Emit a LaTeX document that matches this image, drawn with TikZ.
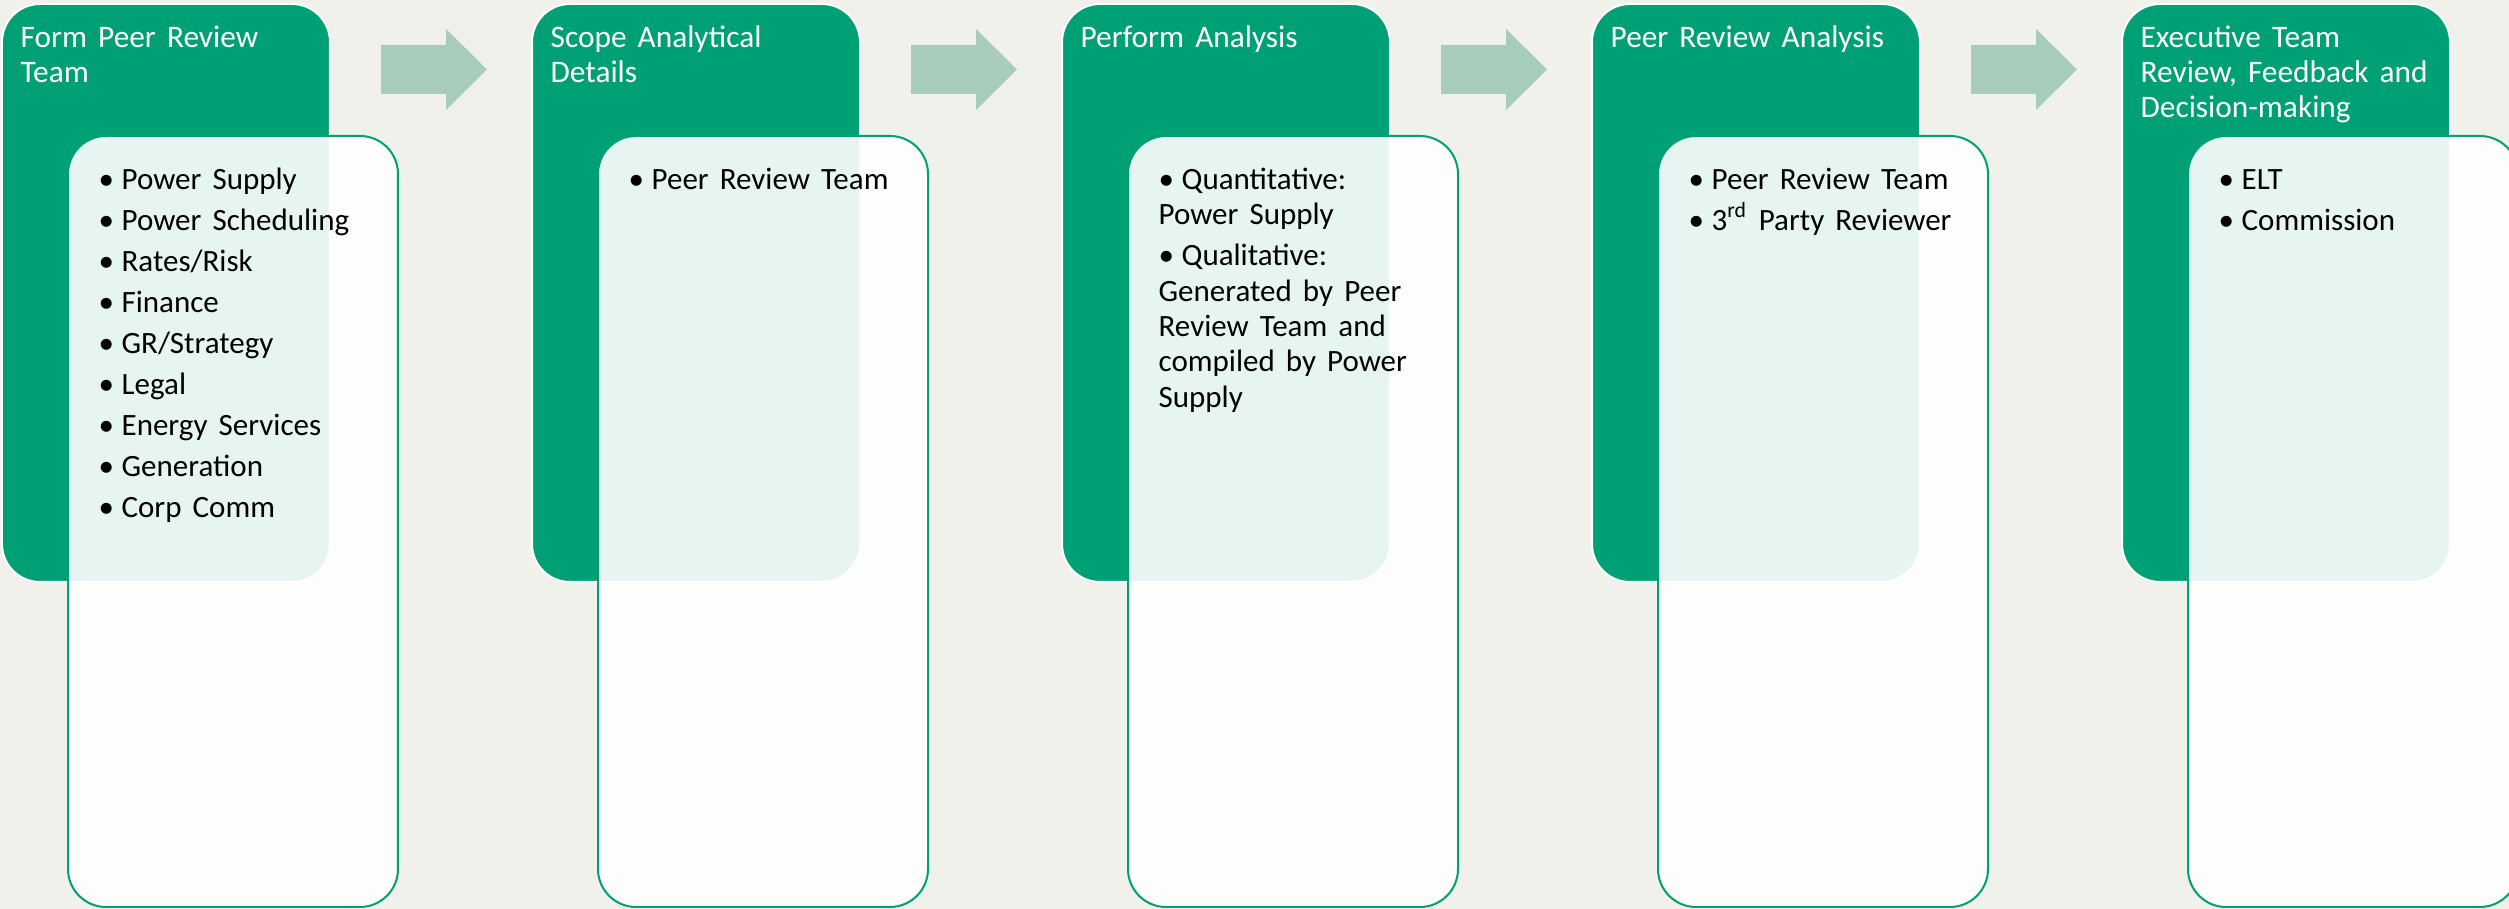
\documentclass[tikz,border=0pt]{standalone}
\usepackage{fontspec}
\setmainfont{Carlito}
\definecolor{bg}{HTML}{F0F1EA}
\definecolor{pgreen}{HTML}{00A077}
\definecolor{parrow}{HTML}{A8CCBC}
\newcommand{\bitem}[1]{\hangindent=6.9pt\hangafter=1\noindent\makebox[6.9pt][l]{\textbullet}#1\par}
\newcommand{\blist}[1]{\fontsize{9.3pt}{10.6pt}\selectfont\setlength{\parskip}{1.7pt}#1}
\newcommand{\ttl}[1]{\fontsize{9.4pt}{10.5pt}\selectfont #1\par}
\tikzset{
  greenbox/.style={fill=pgreen,draw=white,line width=0.6pt,rounded corners=11.4pt,inner sep=0pt,outer sep=0pt},
  whitebox/.style={fill=white,fill opacity=0.9,draw=pgreen,draw opacity=1,line width=0.6pt,rounded corners=11.4pt,inner sep=0pt,outer sep=0pt},
  steparrow/.style={fill=parrow,draw=none},
  titletext/.style={anchor=base west,inner sep=0pt,text=white,text width=95pt,align=left},
  bullettext/.style={anchor=base west,inner sep=0pt,text=black,text width=95pt,align=left},
}
\newcommand{\panel}[4]{%
  \node[greenbox, anchor=north west, minimum width=98.4pt, minimum height=173.4pt] (g#1) at ({2+#2},4) {};
  \node[whitebox, anchor=north west, minimum width=99pt, minimum height=231.3pt] (w#1) at ({68+#2},136) {};
  \node[titletext] (t#1) at ({20+#2},48) {\ttl{#3}};
  \node[bullettext] (b#1) at ({98+#2},189.5) {\blist{#4}};
}
\begin{document}
\begin{tikzpicture}[x=0.3pt,y=-0.3pt]
  \fill[bg] (0,0) rectangle (2509,909);
  \useasboundingbox (0,0) rectangle (2509,909);
  \foreach \dx in {0,530,1060,1590} {
    \fill[steparrow] ({381+\dx},45) -- ({446+\dx},45) -- ({446+\dx},29) -- ({487+\dx},69.5)
      -- ({446+\dx},110) -- ({446+\dx},94) -- ({381+\dx},94) -- cycle;
  }
  \panel{1}{0}{Form Peer Review\\Team}{\bitem{Power Supply}\bitem{Power Scheduling}\bitem{Rates/Risk}\bitem{Finance}\bitem{GR/Strategy}\bitem{Legal}\bitem{Energy Services}\bitem{Generation}\bitem{Corp Comm}}
  \panel{2}{530}{Scope Analytical\\Details}{\bitem{Peer Review Team}}
  \panel{3}{1060}{Perform Analysis}{\bitem{Quantitative:\\Power Supply}\bitem{Qualitative:\\Generated by Peer\\Review Team and\\compiled by Power\\Supply}}
  \panel{4}{1590}{Peer Review Analysis}{\bitem{Peer Review Team}\bitem{3\textsuperscript{rd} Party Reviewer}}
  \panel{5}{2120}{Executive Team\\Review, Feedback and\\Decision-making}{\bitem{ELT}\bitem{Commission}}
\end{tikzpicture}
\end{document}
